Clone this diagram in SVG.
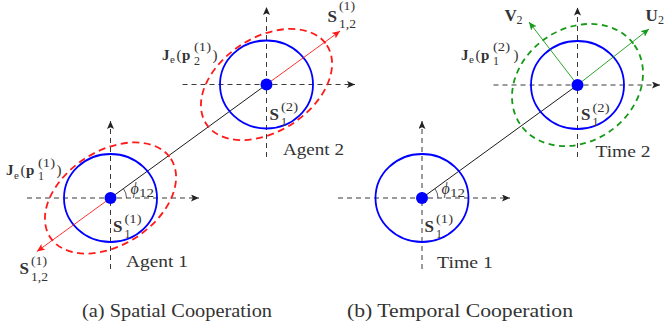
<svg xmlns="http://www.w3.org/2000/svg" width="665" height="334" viewBox="0 0 665 334">
<style>
.ax{stroke:#222;stroke-width:0.9;stroke-dasharray:5 4;fill:none}
.bl{stroke:#0000ff;stroke-width:1.8;fill:none}
.rd{stroke:#ff1a1a;stroke-width:1.8;stroke-dasharray:7 4.5;fill:none}
.gd{stroke:#169916;stroke-width:1.8;stroke-dasharray:6 4.5;fill:none}
.ra{stroke:#ff1a1a;stroke-width:0.9;fill:none}
.ga{stroke:#169916;stroke-width:0.9;fill:none}
.ln{stroke:#000;stroke-width:0.9;fill:none}
.arc{stroke:#333;stroke-width:0.8;fill:none}
.dot{fill:#0000ff}
text{font-family:"Liberation Serif","Times New Roman",serif;fill:#333}
.b{font-weight:bold;font-size:17px}
.jb{font-weight:bold;font-size:15px}
.r14{font-size:15px}
.s{font-size:12px}
.e{font-size:11px}
.ph{font-style:italic;font-size:16px}
.lab{font-size:17px}
.cap{font-size:18px}
</style>
<defs>
<marker id="ak" markerUnits="userSpaceOnUse" markerWidth="10" markerHeight="8" refX="8" refY="3.5" orient="auto"><path d="M8,3.5 L0,0 L1.8,3.5 L0,7 Z" fill="#222"/></marker>
<marker id="ar" markerUnits="userSpaceOnUse" markerWidth="10" markerHeight="8" refX="8" refY="3.5" orient="auto"><path d="M8,3.5 L0,0 L1.8,3.5 L0,7 Z" fill="#ff1a1a"/></marker>
<marker id="ag" markerUnits="userSpaceOnUse" markerWidth="10" markerHeight="8" refX="8" refY="3.5" orient="auto"><path d="M8,3.5 L0,0 L1.8,3.5 L0,7 Z" fill="#169916"/></marker>
</defs>

<g id="connectors">
<line class="ln" x1="110.5" y1="198" x2="266.5" y2="84.5"/>
<line class="ln" x1="422" y1="198" x2="577.5" y2="85"/>
</g>

<g id="agent1">
<line class="ax" x1="27" y1="198" x2="199" y2="198" marker-end="url(#ak)"/>
<line class="ax" x1="110.5" y1="269" x2="110.5" y2="121" marker-end="url(#ak)"/>
<ellipse class="bl" cx="110.5" cy="198" rx="46.5" ry="44"/>
<ellipse class="rd" rx="72" ry="47" transform="translate(110.5 198) rotate(-33)"/>
<line class="ra" x1="110.5" y1="198" x2="36.9" y2="251.5" marker-end="url(#ar)"/>
<circle class="dot" cx="110.5" cy="198" r="6"/>
<path class="arc" d="M126.5,198 A16,16 0 0 0 123.4,188.6"/>
<text class="ph" x="130.5" y="194">ϕ</text><text class="s" x="139" y="197" textLength="15" lengthAdjust="spacingAndGlyphs">12</text>
<text class="jb" x="6" y="175">J</text><text class="e" x="14" y="178.5">e</text><text class="r14" x="20.5" y="175">(</text><text class="jb" x="26" y="175">p</text><text class="s" x="38" y="180">1</text><text class="s" x="38" y="166.5" textLength="17" lengthAdjust="spacingAndGlyphs">(1)</text><text class="r14" x="56.5" y="175">)</text>
<text class="b" x="19.5" y="274">S</text><text class="s" x="31" y="265" textLength="16" lengthAdjust="spacingAndGlyphs">(1)</text><text class="s" x="31" y="281" textLength="17" lengthAdjust="spacingAndGlyphs">1,2</text>
<text class="b" x="113" y="231.5">S</text><text class="s" x="124.5" y="223" textLength="17" lengthAdjust="spacingAndGlyphs">(1)</text><text class="s" x="124.5" y="237.5">1</text>
<text class="lab" x="126" y="267" textLength="62" lengthAdjust="spacingAndGlyphs">Agent 1</text>
</g>

<g id="agent2">
<line class="ax" x1="182.5" y1="84.5" x2="355" y2="84.5" marker-end="url(#ak)"/>
<line class="ax" x1="266.5" y1="157" x2="266.5" y2="7" marker-end="url(#ak)"/>
<ellipse class="bl" cx="266.5" cy="84.5" rx="46.5" ry="44"/>
<ellipse class="rd" rx="72" ry="47" transform="translate(266.5 84.5) rotate(-33)"/>
<line class="ra" x1="266.5" y1="84.5" x2="340.1" y2="31" marker-end="url(#ar)"/>
<circle class="dot" cx="266.5" cy="84.5" r="6"/>
<text class="jb" x="162" y="59.5">J</text><text class="e" x="170" y="63">e</text><text class="r14" x="176.5" y="59.5">(</text><text class="jb" x="182" y="59.5">p</text><text class="s" x="194" y="64.5">2</text><text class="s" x="194" y="51" textLength="17" lengthAdjust="spacingAndGlyphs">(1)</text><text class="r14" x="212.5" y="59.5">)</text>
<text class="b" x="327.5" y="22">S</text><text class="s" x="339" y="10" textLength="16" lengthAdjust="spacingAndGlyphs">(1)</text><text class="s" x="339" y="27.5" textLength="17" lengthAdjust="spacingAndGlyphs">1,2</text>
<text class="b" x="269.5" y="119.5">S</text><text class="s" x="281" y="111" textLength="17" lengthAdjust="spacingAndGlyphs">(2)</text><text class="s" x="281" y="125.5">1</text>
<text class="lab" x="283" y="155" textLength="61" lengthAdjust="spacingAndGlyphs">Agent 2</text>
</g>

<g id="time1">
<line class="ax" x1="338" y1="198" x2="510" y2="198" marker-end="url(#ak)"/>
<line class="ax" x1="422" y1="269" x2="422" y2="121" marker-end="url(#ak)"/>
<ellipse class="bl" cx="422" cy="198" rx="46.5" ry="44"/>
<circle class="dot" cx="422" cy="198" r="6"/>
<path class="arc" d="M438,198 A16,16 0 0 0 434.9,188.6"/>
<text class="ph" x="441.5" y="194">ϕ</text><text class="s" x="450" y="197" textLength="15" lengthAdjust="spacingAndGlyphs">12</text>
<text class="b" x="424.5" y="231.5">S</text><text class="s" x="436" y="223" textLength="17" lengthAdjust="spacingAndGlyphs">(1)</text><text class="s" x="436" y="237.5">1</text>
<text class="lab" x="437" y="268" textLength="56" lengthAdjust="spacingAndGlyphs">Time 1</text>
</g>

<g id="time2">
<line class="ax" x1="493.5" y1="85" x2="660" y2="85" marker-end="url(#ak)"/>
<line class="ax" x1="577.5" y1="157" x2="577.5" y2="7.5" marker-end="url(#ak)"/>
<ellipse class="bl" cx="577.5" cy="85" rx="46.5" ry="44"/>
<ellipse class="gd" rx="69.5" ry="56.5" transform="translate(577.5 85) rotate(-35)"/>
<line class="ga" x1="577.5" y1="85" x2="649" y2="29" marker-end="url(#ag)"/>
<line class="ga" x1="577.5" y1="85" x2="529" y2="22" marker-end="url(#ag)"/>
<circle class="dot" cx="577.5" cy="85" r="6"/>
<text class="jb" x="461" y="59.5">J</text><text class="e" x="469" y="63">e</text><text class="r14" x="475.5" y="59.5">(</text><text class="jb" x="481" y="59.5">p</text><text class="s" x="493" y="64.5">1</text><text class="s" x="493" y="51" textLength="17" lengthAdjust="spacingAndGlyphs">(2)</text><text class="r14" x="513.5" y="59.5">)</text>
<text class="b" x="504.5" y="20.5">V</text><text class="s" x="516.5" y="24">2</text>
<text class="b" x="645.5" y="20.5">U</text><text class="s" x="658" y="24">2</text>
<text class="b" x="581" y="120">S</text><text class="s" x="592.5" y="111.5" textLength="17" lengthAdjust="spacingAndGlyphs">(2)</text><text class="s" x="592.5" y="126">1</text>
<text class="lab" x="595.5" y="156.5" textLength="55" lengthAdjust="spacingAndGlyphs">Time 2</text>
</g>

<g id="captions">
<text class="cap" x="82" y="317" textLength="190" lengthAdjust="spacingAndGlyphs">(a) Spatial Cooperation</text>
<text class="cap" x="347" y="317" textLength="226" lengthAdjust="spacingAndGlyphs">(b) Temporal Cooperation</text>
</g>
</svg>
